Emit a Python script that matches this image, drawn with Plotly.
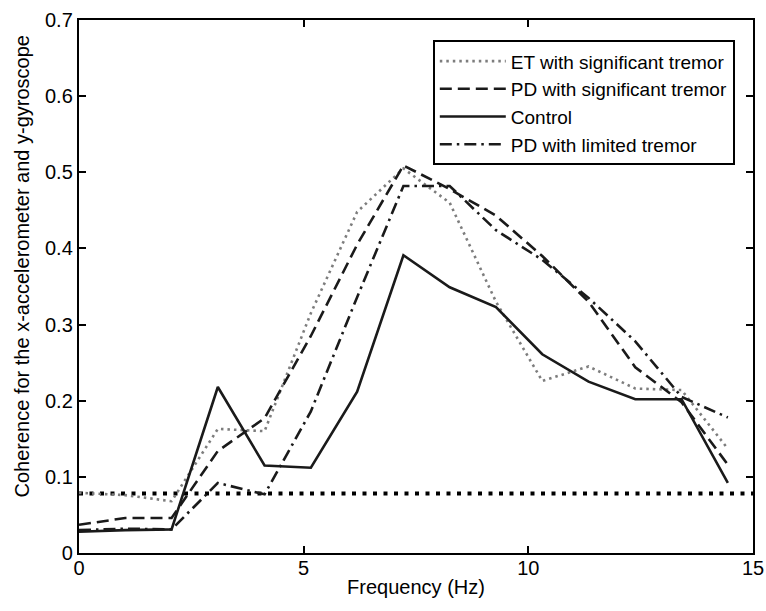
import plotly.graph_objects as go

# Frequency bins (Hz)
freq = [0.0, 1.03, 2.06, 3.09, 4.13, 5.16, 6.19, 7.22, 8.25, 9.28, 10.31, 11.34, 12.38, 13.41, 14.44]

# Mean coherence per group
et_sig = [0.079, 0.076, 0.068, 0.163, 0.160, 0.315, 0.448, 0.505, 0.460, 0.330, 0.226, 0.245, 0.216, 0.214, 0.137]
pd_sig = [0.037, 0.046, 0.046, 0.134, 0.177, 0.285, 0.405, 0.509, 0.478, 0.443, 0.390, 0.330, 0.244, 0.198, 0.116]
control = [0.028, 0.030, 0.031, 0.218, 0.115, 0.112, 0.212, 0.391, 0.349, 0.323, 0.261, 0.225, 0.202, 0.202, 0.092]
pd_lim = [0.030, 0.032, 0.031, 0.092, 0.077, 0.186, 0.336, 0.482, 0.482, 0.424, 0.385, 0.335, 0.278, 0.205, 0.178]

# Significance threshold
threshold = 0.078
x_range = [0, 15]
y_ticks = [0, 0.1, 0.2, 0.3, 0.4, 0.5, 0.6, 0.7]
y_labels = ["0", "0.1", "0.2", "0.3", "0.4", "0.5", "0.6", "0.7"]
x_ticks = [0, 5, 10, 15]

FONT = "Liberation Sans, Arial, sans-serif"

fig = go.Figure()

fig.add_trace(go.Scatter(x=x_range, y=[threshold, threshold], mode="lines",
                         line=dict(color="black", width=4, dash="4px,6.5px"),
                         showlegend=False, hoverinfo="skip"))

fig.add_trace(go.Scatter(x=freq, y=et_sig, mode="lines", name="ET with significant tremor",
                         line=dict(color="#7d7d7d", width=2.6, dash="2.5px,4px")))
fig.add_trace(go.Scatter(x=freq, y=pd_sig, mode="lines", name="PD with significant tremor",
                         line=dict(color="#1a1a1a", width=2.6, dash="12px,6px")))
fig.add_trace(go.Scatter(x=freq, y=control, mode="lines", name="Control",
                         line=dict(color="#1a1a1a", width=2.6)))
fig.add_trace(go.Scatter(x=freq, y=pd_lim, mode="lines", name="PD with limited tremor",
                         line=dict(color="#1a1a1a", width=2.6, dash="12px,5px,2.5px,5px")))

axis_common = dict(showline=True, linecolor="black", linewidth=2.4, mirror="allticks",
                   ticks="inside", ticklen=7, tickwidth=2, tickcolor="black",
                   showgrid=False, zeroline=False, automargin=False,
                   tickfont=dict(family=FONT, size=20, color="black"))

fig.update_xaxes(range=x_range, tickvals=x_ticks, ticktext=[str(v) for v in x_ticks],
                 ticklabelstandoff=-4,
                 title=dict(text="Frequency (Hz)", font=dict(family=FONT, size=20, color="black"),
                            standoff=2),
                 **axis_common)
fig.update_yaxes(range=[0, 0.7], tickvals=y_ticks, ticktext=y_labels, **axis_common)

fig.add_annotation(text="Coherence for the x-accelerometer and y-gyroscope",
                   xref="paper", yref="paper", x=-0.085, y=0.537,
                   xanchor="center", yanchor="middle", textangle=-90, showarrow=False,
                   font=dict(family=FONT, size=20, color="black"))

fig.update_layout(
    width=766, height=611,
    margin=dict(l=79, r=13, t=20, b=58),
    plot_bgcolor="white", paper_bgcolor="white",
    font=dict(family=FONT, size=20, color="black"),
    legend=dict(x=0.973, y=0.962, xanchor="right", yanchor="top",
                bgcolor="white", bordercolor="black", borderwidth=2,
                font=dict(family=FONT, size=19, color="black"),
                itemwidth=66, tracegroupgap=0),
)

fig.write_html("out.html")
